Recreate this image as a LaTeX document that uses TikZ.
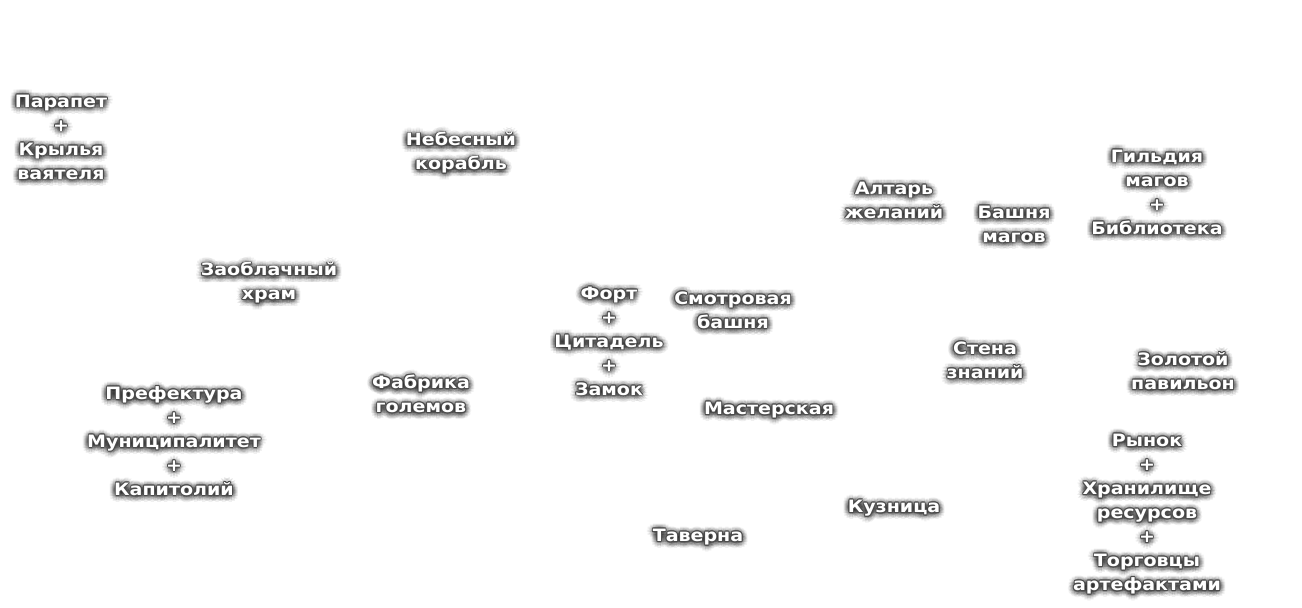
\documentclass[tikz,border=0pt]{standalone}
\usepackage{fontspec}
\newfontfamily\lblfont[FakeStretch=1.12]{DejaVu Sans Bold}
\usepackage{tikz}
\usetikzlibrary{positioning}
\tikzset{
  lbl/.style={font=\lblfont\fontsize{17}{24}\selectfont,align=center,text=white,inner sep=0pt},
  halo/.style={lbl,text=black,opacity=0.06},
  rim/.style={lbl,text=black!70},
}
% white label with dark rim and soft shadow
\newcommand{\glowlbl}[3]{%
  \foreach \r in {1.5,3,4.5,6}{%
    \foreach \a in {0,30,...,330}{%
      \node[halo,xshift={\r*cos(\a)*1pt},yshift={\r*sin(\a)*1pt-1pt}] at (#2) {#3};}}
  \foreach \a in {0,45,...,315}{%
    \node[rim,xshift={0.9*cos(\a)*1pt},yshift={0.9*sin(\a)*1pt}] at (#2) {#3};}
  \node[lbl] (#1) at (#2) {#3};
}
\begin{document}
\begin{tikzpicture}[x=1pt,y=-1pt]
\useasboundingbox[fill=white] (0,0) rectangle (1302,608);
\glowlbl{parapet}{61,137}{Парапет\\+\\Крылья\\ваятеля}
\glowlbl{ship}{461,153}{Небесный\\корабль}
\glowlbl{temple}{269,283}{Заоблачный\\храм}
\glowlbl{prefect}{174,441}{Префектура\\+\\Муниципалитет\\+\\Капитолий}
\glowlbl{golem}{421,394}{Фабрика\\големов}
\glowlbl{fort}{609,341}{Форт\\+\\Цитадель\\+\\Замок}
\glowlbl{watch}{733,310}{Смотровая\\башня}
\glowlbl{workshop}{769,410}{Мастерская}
\glowlbl{tavern}{698,537}{Таверна}
\glowlbl{altar}{894,200}{Алтарь\\желаний}
\glowlbl{magetower}{1014,224}{Башня\\магов}
\glowlbl{guild}{1157,192}{Гильдия\\магов\\+\\Библиотека}
\glowlbl{wall}{985,360}{Стена\\знаний}
\glowlbl{pavilion}{1183,371}{Золотой\\павильон}
\glowlbl{forge}{894,508}{Кузница}
\glowlbl{market}{1147,514}{Рынок\\+\\Хранилище\\ресурсов\\+\\Торговцы\\артефактами}
\end{tikzpicture}
\end{document}
